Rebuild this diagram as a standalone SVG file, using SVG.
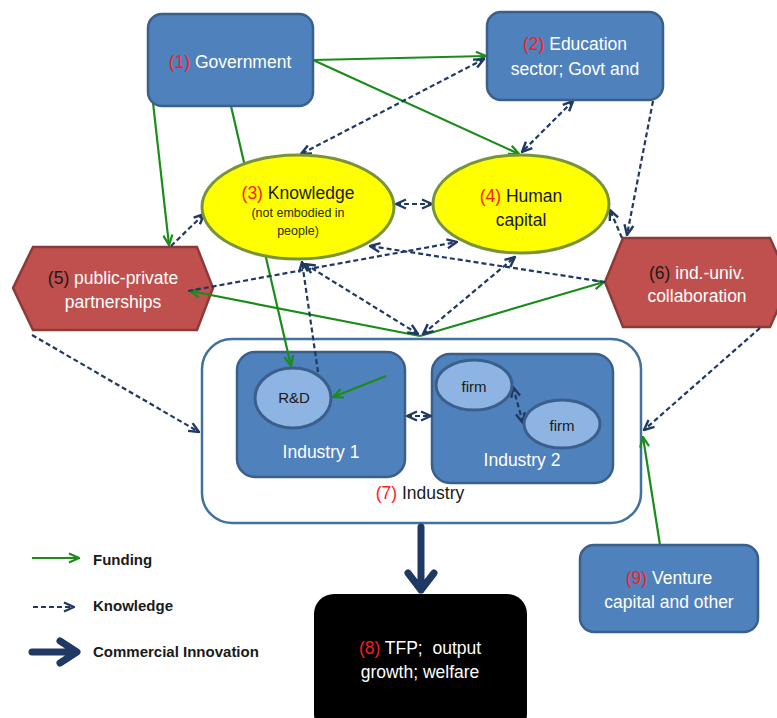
<svg xmlns="http://www.w3.org/2000/svg" width="777" height="718" viewBox="0 0 777 718">
<defs>
<style>
.bx{fill:#4F81BD;stroke:#3A5F8B;stroke-width:2.5}
.hx{fill:#C0504D;stroke:#8C3A38;stroke-width:2.5}
.el{fill:#FFFF00;stroke:#77933C;stroke-width:3}
.sub{fill:#8EB4E3;stroke:#3A5F8B;stroke-width:3}
.t{font-family:"Liberation Sans",Arial,sans-serif;font-size:17.5px;text-anchor:middle}
.w{fill:#FFFFFF}
.k{fill:#1a1a1a}
.r{fill:#FF1A1A}
.sm{font-family:"Liberation Sans",Arial,sans-serif;font-size:12.5px;text-anchor:middle;fill:#2a2a00}
.lg{font-family:"Liberation Sans",Arial,sans-serif;font-size:15px;font-weight:bold;fill:#1a1a1a}
.f{fill:none;stroke:#1A8C1A;stroke-width:2.2;marker-end:url(#ga)}
.d{fill:none;stroke:#1F3864;stroke-width:2.2;stroke-dasharray:5,3;marker-end:url(#na)}
.dd{marker-start:url(#na)}
.ci{fill:none;stroke:#1F3864;stroke-width:7;stroke-linecap:round;stroke-linejoin:round}
</style>
<marker id="ga" viewBox="0 0 12 12" refX="11" refY="6" markerWidth="12" markerHeight="12" markerUnits="userSpaceOnUse" orient="auto-start-reverse"><path d="M1,1.5 L11,6 L1,10.5" fill="none" stroke="#1A8C1A" stroke-width="2.2"/></marker>
<marker id="na" viewBox="0 0 12 12" refX="11" refY="6" markerWidth="12" markerHeight="12" markerUnits="userSpaceOnUse" orient="auto-start-reverse"><path d="M1,1.5 L11,6 L1,10.5" fill="none" stroke="#1F3864" stroke-width="2.4"/></marker>
</defs>

<g id="industry">
<rect x="202" y="339" width="439" height="184" rx="30" fill="#FFFFFF" stroke="#41719C" stroke-width="2.5"/>
<text class="t" x="420" y="499"><tspan class="r">(7)</tspan><tspan class="k"> Industry</tspan></text>
</g>
<g id="industry1">
<rect class="bx" x="237" y="352" width="168" height="125" rx="18"/>
<text class="t w" x="321" y="458">Industry 1</text>
</g>
<g id="industry2">
<rect class="bx" x="432" y="354" width="181" height="129" rx="18"/>
<text class="t w" x="522" y="466">Industry 2</text>
</g>
<g id="ppp">
<polygon class="hx" points="13,288 33,247 197,247 213,288 197,330 33,330"/>
<text class="t" x="113" y="284"><tspan class="k">(5)</tspan><tspan class="w"> public-private</tspan></text>
<text class="t w" x="113" y="308">partnerships</text>
</g>
<g id="collab">
<polygon class="hx" points="605,282 623,238 770,238 790,282 770,327 623,327"/>
<text class="t" x="697" y="279"><tspan class="k">(6)</tspan><tspan class="w"> ind.-univ.</tspan></text>
<text class="t w" x="697" y="302">collaboration</text>
</g>

<g id="connectors">
<!-- funding -->
<path class="f" d="M148,58 L169,245"/>
<path class="f" d="M231,106 L291,366"/>
<path class="f" d="M313,60 L486,56"/>
<path class="f" d="M313,60 L519,154"/>
<path class="f" d="M386,376 L333,397"/>
<path class="f" d="M420,336 L190,291"/>
<path class="f" d="M420,336 L604,282"/>
<path class="f" d="M660,545 L643,437"/>
<!-- knowledge -->
<path class="d dd" d="M484,59 L301,154"/>
<path class="d dd" d="M573,101 L522,152"/>
<path class="d" d="M653,101 L627,235"/>
<path class="d" d="M622,238 L610,210"/>
<path class="d dd" d="M396,204 L432,204"/>
<path class="d" d="M171,246 L204,214"/>
<path class="d" d="M188,291 L457,242"/>
<path class="d" d="M605,282 L370,246"/>
<path class="d" d="M318,372 L302,262"/>
<path class="d dd" d="M418,334 L305,264"/>
<path class="d dd" d="M423,334 L515,257"/>
<path class="d" d="M32,335 L199,432"/>
<path class="d" d="M760,328 L644,430"/>
<path class="d dd" d="M407,416 L431,416"/>
<path class="d dd" d="M513,387 L523,423"/>
<!-- commercial innovation -->
<path class="ci" d="M421,527 L421,590 M408,573 L421,590 L434,573"/>
</g>

<g id="government">
<rect class="bx" x="148" y="14" width="165" height="92" rx="14"/>
<text class="t" x="230" y="68"><tspan class="r">(1)</tspan><tspan class="w"> Government</tspan></text>
</g>
<g id="education">
<rect class="bx" x="487" y="12" width="176" height="88" rx="14"/>
<text class="t" x="575" y="50"><tspan class="r">(2)</tspan><tspan class="w"> Education</tspan></text>
<text class="t w" x="575" y="75">sector; Govt and</text>
</g>
<g id="knowledge">
<ellipse class="el" cx="298" cy="207" rx="96" ry="52"/>
<text class="t" x="298" y="199"><tspan class="r">(3)</tspan><tspan class="k"> Knowledge</tspan></text>
<text class="sm" x="298" y="217">(not embodied in</text>
<text class="sm" x="298" y="235">people)</text>
</g>
<g id="human-capital">
<ellipse class="el" cx="521" cy="204" rx="88" ry="49"/>
<text class="t" x="521" y="202"><tspan class="r">(4)</tspan><tspan class="k"> Human</tspan></text>
<text class="t k" x="521" y="226">capital</text>
</g>
<g id="rd">
<ellipse class="sub" cx="293" cy="398" rx="38" ry="30"/>
<text class="t k" x="294" y="403" style="font-size:15px">R&amp;D</text>
</g>
<g id="firm1">
<ellipse class="sub" cx="474" cy="385" rx="38" ry="25"/>
<text class="t k" x="474" y="392" style="font-size:15px">firm</text>
</g>
<g id="firm2">
<ellipse class="sub" cx="562" cy="424" rx="38" ry="24"/>
<text class="t k" x="562" y="431" style="font-size:15px">firm</text>
</g>
<g id="tfp">
<rect x="314" y="594" width="213" height="140" rx="20" fill="#000000"/>
<text class="t" x="420" y="654"><tspan class="r">(8)</tspan><tspan class="w"> TFP;&#160; output</tspan></text>
<text class="t w" x="420" y="678">growth; welfare</text>
</g>
<g id="venture">
<rect class="bx" x="580" y="545" width="178" height="87" rx="14"/>
<text class="t" x="669" y="584"><tspan class="r">(9)</tspan><tspan class="w"> Venture</tspan></text>
<text class="t w" x="669" y="608">capital and other</text>
</g>

<g id="legend">
<path class="f" d="M32,558 L79,558"/>
<text class="lg" x="93" y="565">Funding</text>
<path class="d" d="M33,607 L74,607"/>
<text class="lg" x="93" y="611">Knowledge</text>
<path class="ci" d="M32,652 L76,652 M60,641 L77,652 L60,663"/>
<text class="lg" x="93" y="657">Commercial Innovation</text>
</g>
</svg>
